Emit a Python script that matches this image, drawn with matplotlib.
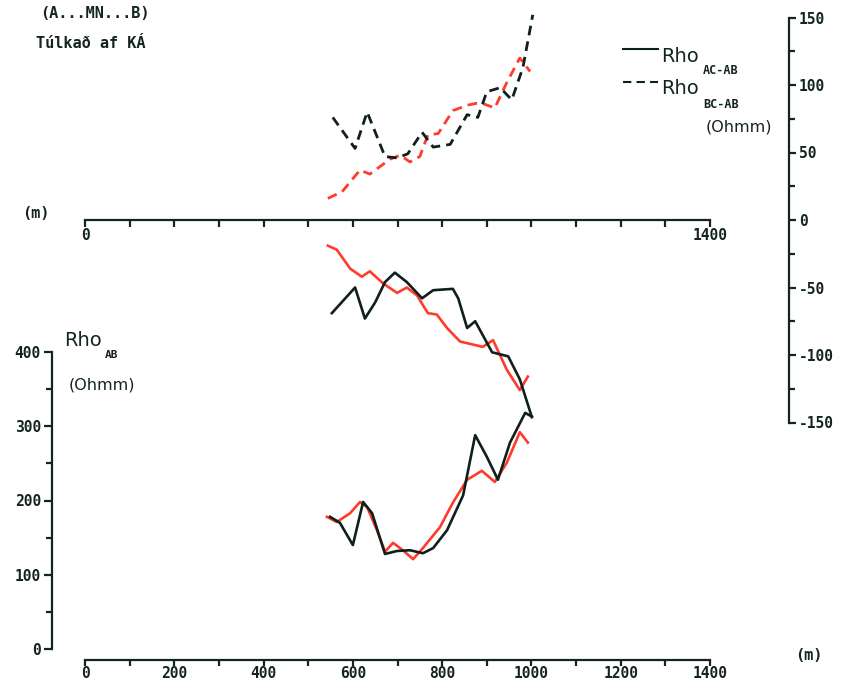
import matplotlib
matplotlib.use('Agg')
import matplotlib.pyplot as plt
from matplotlib.ticker import MultipleLocator, FixedLocator, FixedFormatter

plt.rcParams['axes.unicode_minus'] = False

# upper dashed curves (right axis, Ohmm), x in m
bc_black_x = [555, 605, 632, 672, 699, 723, 755, 780, 818, 856, 880, 900, 930, 956, 981, 1003]
bc_black_y = [76, 53, 80, 47, 46, 49, 65, 54, 56, 78, 76, 95, 98, 89, 113, 152]
bc_red_x = [544, 576, 616, 638, 683, 706, 728, 750, 768, 791, 824, 856, 885, 918, 945, 974, 997]
bc_red_y = [16, 21, 37, 34, 45, 48, 43, 47, 63, 64, 81, 85, 87, 83, 102, 120, 110]

# middle solid curves (right axis, negative side)
ac_red_x = [544, 564, 594, 620, 638, 668, 699, 721, 744, 768, 788, 811, 840, 891, 914, 945, 974, 992]
ac_red_y = [-19, -22, -36, -42, -38, -47, -54, -50, -56, -69, -70, -80, -90, -94, -89, -111, -126, -116]
ac_black_x = [553, 605, 627, 650, 672, 694, 721, 755, 780, 824, 836, 856, 874, 912, 948, 974, 1001]
ac_black_y = [-69, -50, -73, -61, -46, -39, -46, -58, -52, -51, -58, -80, -75, -98, -101, -118, -146]

# lower solid curves (left axis, Rho AB)
ab_red_x = [542, 564, 594, 616, 632, 654, 672, 690, 712, 735, 757, 795, 824, 856, 889, 918, 945, 974, 992]
ab_red_y = [178, 171, 183, 198, 191, 160, 131, 143, 133, 121, 136, 164, 197, 228, 240, 225, 251, 292, 278]
ab_black_x = [549, 571, 600, 623, 643, 672, 699, 728, 757, 780, 811, 847, 874, 900, 925, 952, 986, 1001]
ab_black_y = [178, 170, 140, 198, 183, 128, 132, 133, 129, 136, 160, 207, 288, 259, 228, 278, 318, 313]

top_ticks = list(range(0, 1401, 100))
top_labels = ['0'] + [''] * 13 + ['1400']

BLACK = '#0f1f1c'
RED = '#ff3b2c'
AXC = '#142420'
MONO = 'DejaVu Sans Mono'

W, H = 842, 683
fig = plt.figure(figsize=(W / 100, H / 100), dpi=100)


def box(x0, y0, x1, y1):
    return [x0 / W, 1 - y1 / H, (x1 - x0) / W, (y1 - y0) / H]


def ftext(x, y, s, **kw):
    fig.text(x / W, 1 - y / H, s, va='center', ha='left', color=AXC, **kw)


ax_r = fig.add_axes(box(85, 17.5, 710, 422.5))
ax_l = fig.add_axes(box(85, 352, 710, 649))

for ax in (ax_r, ax_l):
    ax.set_facecolor('none')
    ax.set_xlim(0, 1400)
    for s in ax.spines.values():
        s.set_color(AXC)
        s.set_linewidth(1.6)
    ax.spines['top'].set_visible(False)

# right axis (differences)
ax_r.set_ylim(-150, 150)
ax_r.spines['left'].set_visible(False)
ax_r.spines['right'].set_position(('axes', 704 / 625))
ax_r.spines['bottom'].set_position(('data', 0))
ax_r.yaxis.tick_right()
ax_r.yaxis.set_major_locator(MultipleLocator(50))
ax_r.yaxis.set_minor_locator(MultipleLocator(25))
ax_r.xaxis.set_major_locator(FixedLocator(top_ticks))
ax_r.xaxis.set_major_formatter(FixedFormatter(top_labels))
ax_r.tick_params(axis='y', which='major', direction='out', length=5, width=1.6,
                 color=AXC, pad=2, labelsize=10.5, labelcolor=AXC)
ax_r.tick_params(axis='y', which='minor', direction='out', length=4, width=1.6, color=AXC)
ax_r.tick_params(axis='x', which='major', direction='out', length=5, width=1.6,
                 color=AXC, pad=1, labelsize=10.5, labelcolor=AXC)

# left axis (Rho AB)
ax_l.set_ylim(0, 400)
ax_l.spines['right'].set_visible(False)
ax_l.spines['left'].set_position(('axes', -33 / 625))
ax_l.spines['bottom'].set_position(('axes', -11 / 297))
ax_l.yaxis.set_major_locator(MultipleLocator(100))
ax_l.yaxis.set_minor_locator(MultipleLocator(50))
ax_l.xaxis.set_major_locator(MultipleLocator(200))
ax_l.xaxis.set_minor_locator(MultipleLocator(100))
ax_l.tick_params(axis='y', which='major', direction='out', length=6, width=1.6, color=AXC,
                 pad=2, labelsize=10.5, labelcolor=AXC)
ax_l.tick_params(axis='x', which='major', direction='out', length=4, width=1.6, color=AXC,
                 pad=0, labelsize=10.5, labelcolor=AXC)
ax_l.tick_params(which='minor', direction='out', length=4, width=1.6, color=AXC)

for ax in (ax_r, ax_l):
    for lab in ax.get_xticklabels() + ax.get_yticklabels():
        lab.set_family(MONO)
        lab.set_fontweight('bold')

dash = (0, (3.5, 2.2))
lkw = dict(clip_on=False, solid_joinstyle='round', dash_joinstyle='round')
ax_r.plot(bc_red_x, bc_red_y, color=RED, lw=2, ls=dash, **lkw)
ax_r.plot(bc_black_x, bc_black_y, color=BLACK, lw=2, ls=dash, **lkw)
ax_r.plot(ac_red_x, ac_red_y, color=RED, lw=1.9, **lkw)
ax_r.plot(ac_black_x, ac_black_y, color=BLACK, lw=1.9, **lkw)
ax_l.plot(ab_red_x, ab_red_y, color=RED, lw=1.9, **lkw)
ax_l.plot(ab_black_x, ab_black_y, color=BLACK, lw=1.9, **lkw)

# texts
ftext(40, 14, '(A...MN...B)', family=MONO, fontweight='bold', fontsize=11)
ftext(36, 43, 'Túlkað af KÁ', family=MONO, fontweight='bold', fontsize=11)
ftext(22, 214, '(m)', family=MONO, fontweight='bold', fontsize=11)
ftext(795, 656, '(m)', family=MONO, fontweight='bold', fontsize=11)

# legend
fig.add_artist(plt.Line2D([623 / W, 658 / W], [1 - 49 / H] * 2, color=BLACK, lw=1.5))
fig.add_artist(plt.Line2D([623 / W, 658 / W], [1 - 82 / H] * 2, color=BLACK, lw=1.5,
                          ls=(0, (4, 2.5))))
ftext(661, 56, 'Rho', fontsize=14)
ftext(703, 71, 'AC-AB', family=MONO, fontweight='bold', fontsize=8.5)
ftext(661, 88, 'Rho', fontsize=14)
ftext(703, 104, 'BC-AB', family=MONO, fontweight='bold', fontsize=8.5)
ftext(706, 127, '(Ohmm)', fontsize=11.5)

ftext(64, 341, 'Rho', fontsize=14)
ftext(105, 355, 'AB', family=MONO, fontweight='bold', fontsize=8)
ftext(69, 385, '(Ohmm)', fontsize=11.5)

fig.savefig('out.png', dpi=100)
